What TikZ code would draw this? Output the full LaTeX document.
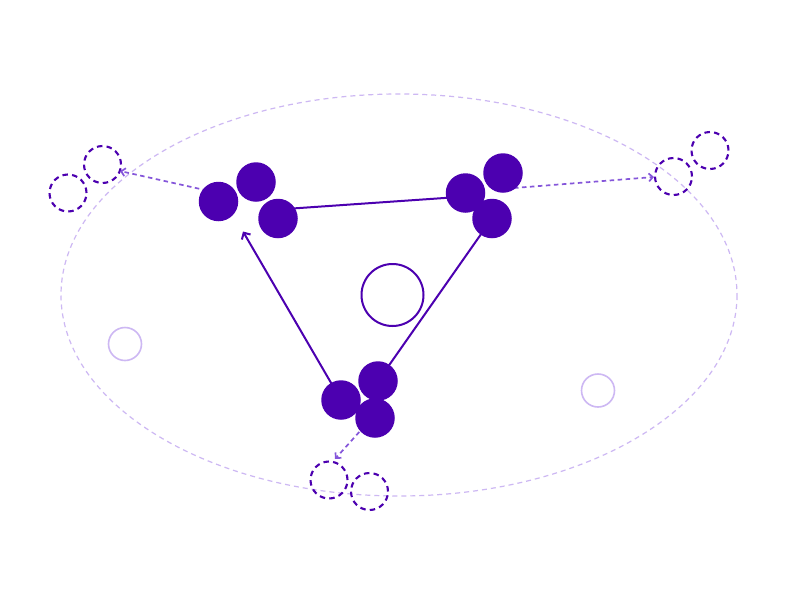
\documentclass[tikz,border=0pt]{standalone}
\usetikzlibrary{arrows.meta}
\definecolor{deep}{HTML}{4C00B0}
\definecolor{mid}{HTML}{8556DA}
\definecolor{lav}{HTML}{CDB8F3}
\tikzset{
  dot/.style={circle,fill=deep,draw=none,minimum size=39.5pt,inner sep=0pt},
  ghost/.style={circle,draw=deep,line width=2.1pt,dash pattern=on 5.5pt off 4.2pt,minimum size=37pt,inner sep=0pt,fill=none},
  faint/.style={circle,draw=lav,line width=1.6pt,minimum size=33pt,inner sep=0pt},
  hub/.style={circle,draw=deep,line width=2pt,minimum size=62pt,inner sep=0pt},
  edge/.style={draw=deep,line width=2pt},
  flow/.style={draw=mid,line width=1.7pt,dash pattern=on 4.5pt off 3.5pt,-{Straight Barb[length=4pt,width=8pt]}},
  orbit/.style={draw=lav,line width=1.2pt,dash pattern=on 5pt off 4pt}
}
\begin{document}
\begin{tikzpicture}[x=1pt,y=-1pt]
\useasboundingbox (0,0) rectangle (800,600);
\fill[white] (0,0) rectangle (800,600);
% orbit
\draw[orbit] (399,295) ellipse [x radius=338, y radius=201];
% faint circles and hub
\node[faint] (L1) at (125,344) {};
\node[faint] (L2) at (598,390.5) {};
\node[hub] (H) at (392.5,295) {};
% ghost circles
\node[ghost] (D1) at (102.5,164.5) {};
\node[ghost] (D2) at (68,193) {};
\node[ghost] (E1) at (673.5,176.5) {};
\node[ghost] (E2) at (710,150.5) {};
\node[ghost] (F1) at (329,480) {};
\node[ghost] (F2) at (369.5,491.5) {};
% anchors for connectors
\coordinate (cA) at (207,190.5);
\coordinate (cB) at (514,188);
\coordinate (cC) at (370,420);
\coordinate (tA) at (120,171);
\coordinate (tB) at (654,177);
\coordinate (tC) at (335,459);
\coordinate (tX) at (243,231.5);
\coordinate (sC) at (341,400);
\coordinate (ab0) at (278,209.5);
\coordinate (ab1) at (466,196.5);
\coordinate (bc0) at (492,218.5);
\coordinate (bc1) at (378,381);
% connectors (behind dots)
\draw[flow] (cA) -- (tA);
\draw[flow] (cB) -- (tB);
\draw[flow] (cC) -- (tC);
\draw[edge] (ab0) -- (ab1);
\draw[edge] (bc0) -- (bc1);
\draw[edge,-{Straight Barb[length=5pt,width=10pt]}] (sC) -- (tX);
% dots
\node[dot] (A1) at (218.5,201.5) {};
\node[dot] (A2) at (256,182) {};
\node[dot] (A3) at (278,218.5) {};
\node[dot] (B1) at (465.5,193) {};
\node[dot] (B2) at (503,173) {};
\node[dot] (B3) at (492,218.5) {};
\node[dot] (C1) at (341,400) {};
\node[dot] (C2) at (378,381) {};
\node[dot] (C3) at (375,418) {};
\end{tikzpicture}
\end{document}
